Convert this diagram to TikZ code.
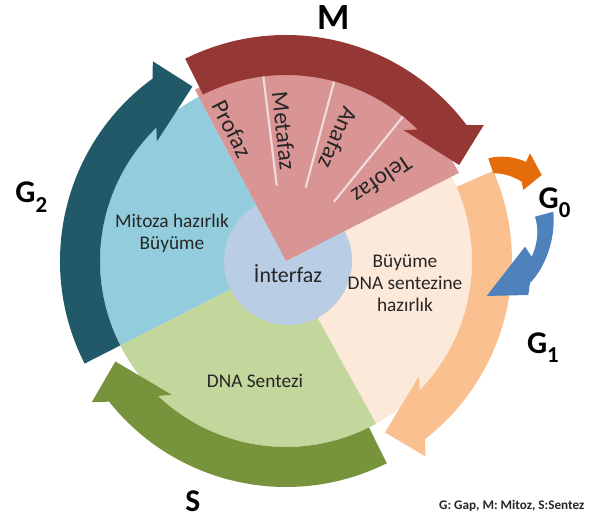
\documentclass[tikz,border=0pt]{standalone}
\usepackage{fontspec}
\setmainfont{Carlito}
\usetikzlibrary{positioning}

\definecolor{mfill}{RGB}{217,149,148}
\definecolor{marrow}{RGB}{149,55,53}
\definecolor{gtwofill}{RGB}{147,205,221}
\definecolor{gtwoarrow}{RGB}{33,89,104}
\definecolor{sfill}{RGB}{195,214,155}
\definecolor{sarrow}{RGB}{119,147,60}
\definecolor{gonefill}{RGB}{253,233,217}
\definecolor{gonearrow}{RGB}{250,192,144}
\definecolor{gzeroout}{RGB}{228,108,10}
\definecolor{gzeroin}{RGB}{79,129,189}
\definecolor{interfill}{RGB}{185,205,229}
\definecolor{divider}{RGB}{242,220,219}
\definecolor{textgray}{RGB}{38,38,38}

% curved phase arrow: colour, tail angle, tip angle (clockwise)
\newcommand{\phasearrow}[3]{%
	\fill[#1] (#2:186) arc[start angle=#2, end angle={#3+16}, radius=186]
		-- ({#3+19}:176) -- (#3:198) -- ({#3+5.5}:240) -- ({#3+8}:226)
		arc[start angle={#3+8}, end angle=#2, radius=226] -- cycle;}
\newcommand{\gsub}[1]{\raisebox{-0.3em}{\fontsize{13}{13}\selectfont #1}}

\begin{document}
\begin{tikzpicture}[x=0.02cm,y=0.02cm]
	\tikzstyle{phase}=[font=\fontsize{18}{18}\selectfont\bfseries, inner sep=0pt, anchor=base west]
	\tikzstyle{info}=[font=\fontsize{11}{12.6}\selectfont, text=textgray, align=center, inner sep=0pt]
	\tikzstyle{stage}=[font=\fontsize{13.5}{13.5}\selectfont, text=textgray, inner sep=0pt]

	\useasboundingbox (-286,-258) rectangle (319,261);

	%pie
	\fill[gonefill] (0,0) -- (-61:186) arc[start angle=-61, end angle=27, radius=186] -- cycle;
	\fill[sfill] (0,0) -- (207:186) arc[start angle=207, end angle=299, radius=186] -- cycle;
	\fill[gtwofill] (0,0) -- (118:186) arc[start angle=118, end angle=207, radius=186] -- cycle;
	\fill[interfill] (2,0) circle (64);
	\fill[mfill] (0,0) -- (27:194) arc[start angle=27, end angle=118, radius=194] -- cycle;
	\foreach \a in {97,75,51}
		\draw[divider, line width=1.2pt] (\a:76) -- (\a:190);

	%mitosis stages
	\node[stage, rotate=-63] (profaz) at (-54,132) {Profaz};
	\node[stage, rotate=-84] (metafaz) at (-2,130) {Metafaz};
	\node[stage, rotate=-114] (anafaz) at (52,123) {Anafaz};
	\node[stage, rotate=-146] (telofaz) at (96,81) {Telofaz};

	%phase arrows
	\phasearrow{marrow}{116.5}{29}
	\phasearrow{gonearrow}{23.5}{-60}
	\phasearrow{sarrow}{296.5}{210.5}
	\phasearrow{gtwoarrow}{207}{118.2}

	%G0 arrows
	\fill[gzeroout] (202.3,102.7) .. controls (215,106) and (230,104) .. (240,99)
		-- (244,107.7) -- (255.7,86) -- (237.3,71) -- (235.7,79.3)
		.. controls (227,85) and (216,88) .. (207.3,87.7) -- cycle;
	\fill[gzeroin] (249,44.3) -- (267.3,49.3) .. controls (270,20) and (258,-8) .. (244,-22)
		-- (242.3,-34) -- (200.7,-35) -- (239,14.3) -- (245.7,4.3)
		.. controls (252,18) and (253,32) .. (249,44.3) -- cycle;

	%labels
	\node[phase, font=\fontsize{21}{21}\selectfont\bfseries] (mlabel) at (30.7,231) {M};
	\node[phase] (gtwolabel) at (-271,58) {G\gsub{2}};
	\node[phase] (gzerolabel) at (252.3,52.7) {G\gsub{0}};
	\node[phase] (gonelabel) at (240.7,-92.3) {G\gsub{1}};
	\node[phase] (slabel) at (-101,-250.7) {S};

	%texts
	\node[info] (gtwotext) at (-114,28) {Mitoza hazırlık\\Büyüme};
	\node[info] (gonetext) at (119,-22) {Büyüme\\DNA sentezine\\hazırlık};
	\node[info] (stext) at (-31,-120) {DNA Sentezi};
	\node[info, font=\fontsize{12.5}{12.5}\selectfont] (intertext) at (2,-13) {İnterfaz};
	\node[font=\fontsize{7.5}{7.5}\selectfont\bfseries, text=textgray] (legend) at (225.7,-245) {G: Gap, M: Mitoz, S:Sentez};
\end{tikzpicture}
\end{document}
